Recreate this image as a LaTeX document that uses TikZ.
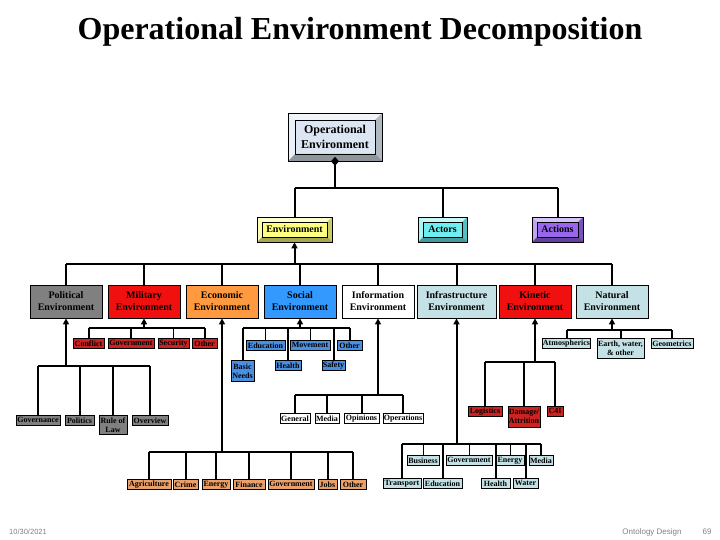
\documentclass[tikz,border=0pt]{standalone}
\usepackage{fontspec}
\setmainfont{Liberation Serif}
\newfontfamily\footfont{Liberation Sans}
\usepackage{tikz}
\usetikzlibrary{arrows.meta}
\definecolor{opblue}{HTML}{DCE6F2}
\definecolor{envyellow}{HTML}{FFFF80}
\definecolor{actcyan}{HTML}{6EEEF0}
\definecolor{actpurple}{HTML}{9966EE}
\definecolor{polgray}{HTML}{808080}
\definecolor{milred}{HTML}{F01010}
\definecolor{milchild}{HTML}{CC2222}
\definecolor{ecoorange}{HTML}{FF9A40}
\definecolor{ecochild}{HTML}{EBA06A}
\definecolor{socblue}{HTML}{3399FF}
\definecolor{socchild}{HTML}{4A90E2}
\definecolor{infrapale}{HTML}{C4E2E6}
\definecolor{footgray}{HTML}{808080}

\begin{document}
\begin{tikzpicture}[x=1pt, y=-1pt,
    link/.style={draw, line width=2pt},
    thinlink/.style={draw, line width=1pt},
    arrowup/.style={-{Triangle[length=6pt,width=6pt]}},
    bevelbox/.style 2 args={draw=black, line width=0.6pt, fill=#1, inner sep=0pt, align=center,
      path picture={
        \fill[white, opacity=.6] (path picture bounding box.north west) -- (path picture bounding box.north east)
          -- ([shift={(-#2,-#2)}]path picture bounding box.north east) -- ([shift={(#2,-#2)}]path picture bounding box.north west) -- cycle;
        \fill[white, opacity=.4] (path picture bounding box.north west) -- ([shift={(#2,-#2)}]path picture bounding box.north west)
          -- ([shift={(#2,#2)}]path picture bounding box.south west) -- (path picture bounding box.south west) -- cycle;
        \fill[black, opacity=.35] (path picture bounding box.south west) -- ([shift={(#2,#2)}]path picture bounding box.south west)
          -- ([shift={(-#2,#2)}]path picture bounding box.south east) -- (path picture bounding box.south east) -- cycle;
        \fill[black, opacity=.2] (path picture bounding box.south east) -- ([shift={(-#2,#2)}]path picture bounding box.south east)
          -- ([shift={(-#2,-#2)}]path picture bounding box.north east) -- (path picture bounding box.north east) -- cycle;
        \draw[black, line width=0.6pt] ([shift={(#2,-#2)}]path picture bounding box.north west) rectangle ([shift={(-#2,#2)}]path picture bounding box.south east);
      }},
    lvl/.style={draw=black, line width=0.8pt, fill=#1, font=\fontsize{10}{12}\selectfont\bfseries,
                minimum width=72pt, minimum height=33pt, align=center, inner sep=1pt},
    leaf/.style={draw=black, line width=0.6pt, fill=#1, font=\fontsize{8}{9}\selectfont\bfseries,
                 minimum height=10pt, inner sep=0.5pt, align=center, anchor=north}
  ]
  \useasboundingbox (0,0) rectangle (720,540);

  \node[font=\fontsize{32}{36}\selectfont\bfseries, anchor=base] (title) at (360,40) {Operational Environment Decomposition};

  % top of the tree
  \node[bevelbox={opblue}{7pt}, minimum width=94pt, minimum height=48pt, font=\fontsize{12}{15}\selectfont\bfseries] (openv) at (335,137) {Operational\\Environment};
  \node[bevelbox={envyellow}{5pt}, minimum width=75pt, minimum height=25pt, font=\fontsize{10}{12}\selectfont\bfseries] (envnode) at (294.5,229.5) {Environment};
  \node[bevelbox={actcyan}{5pt}, minimum width=49pt, minimum height=25pt, font=\fontsize{10}{12}\selectfont\bfseries] (actors) at (442.5,229.5) {Actors};
  \node[bevelbox={actpurple}{5pt}, minimum width=51pt, minimum height=25pt, font=\fontsize{10}{12}\selectfont\bfseries] (actions) at (557.5,229.5) {Actions};

  \coordinate (topbar) at (0,188);
  \draw[link, {Diamond[length=9pt,width=8pt]}-, shorten <=-4.5pt] (openv.south) -- (openv.south |- topbar);
  \draw[link] (envnode.north |- topbar) -- (actions.north |- topbar);
  \foreach \n in {envnode,actors,actions}
    \draw[link] (\n.north |- topbar) -- (\n.north);

  % environments
  \node[lvl=polgray] (polenv) at (66,301.5) {Political\\Environment};
  \node[lvl=milred] (milenv) at (144,301.5) {Military\\Environment};
  \node[lvl=ecoorange] (ecoenv) at (222,301.5) {Economic\\Environment};
  \node[lvl=socblue] (socenv) at (300,301.5) {Social\\Environment};
  \node[lvl=white] (infoenv) at (378,301.5) {Information\\Environment};
  \node[lvl=infrapale, minimum width=79pt] (infraenv) at (456.5,301.5) {Infrastructure\\Environment};
  \node[lvl=milred] (kinenv) at (535,301.5) {Kinetic\\Environment};
  \node[lvl=infrapale] (natenv) at (612,301.5) {Natural\\Environment};

  \coordinate (envbar) at (0,264);
  \draw[link, arrowup] (envnode.south |- envbar) -- (envnode.south);
  \draw[link] (polenv.north |- envbar) -- (natenv.north |- envbar);
  \foreach \n in {polenv,milenv,ecoenv,socenv,infoenv,infraenv,kinenv,natenv}
    \draw[link] (\n.north |- envbar) -- (\n.north);

  % political
  \node[leaf=polgray, minimum width=44pt] (polgov) at (38,415) {Governance};
  \node[leaf=polgray, minimum width=29pt] (polpol) at (79.5,415) {Politics};
  \node[leaf=polgray, minimum width=28pt, minimum height=19pt] (pollaw) at (113,415) {Rule of\\Law};
  \node[leaf=polgray, minimum width=36pt] (polovw) at (150,415) {Overview};
  \coordinate (polbar) at (0,366);
  \draw[link, arrowup] (polenv.south |- polbar) -- (polenv.south);
  \draw[link] (polgov.north |- polbar) -- (polovw.north |- polbar);
  \foreach \n in {polgov,polpol,pollaw,polovw}
    \draw[link] (\n.north |- polbar) -- (\n.north);

  % military
  \node[leaf=milchild, minimum width=31pt] (milcon) at (88.5,338) {Conflict};
  \node[leaf=milchild, minimum width=46pt] (milgov) at (131,338) {Government};
  \node[leaf=milchild, minimum width=31pt] (milsec) at (173.5,338) {Security};
  \node[leaf=milchild, minimum width=25pt] (miloth) at (204.5,338) {Other};
  \coordinate (milbar) at (0,328);
  \draw[link, arrowup] (milenv.south |- milbar) -- (milenv.south);
  \draw[link] (milcon.north |- milbar) -- (miloth.north |- milbar);
  \foreach \n in {milcon,milgov,miloth}
    \draw[link] (\n.north |- milbar) -- (\n.north);
  \draw[thinlink] (milsec.north |- milbar) -- (milsec.north);

  % economic
  \node[leaf=ecochild, minimum width=44pt] (ecoagr) at (149,479) {Agriculture};
  \node[leaf=ecochild, minimum width=25pt] (ecocri) at (185.5,479) {Crime};
  \node[leaf=ecochild, minimum width=28pt] (ecoeng) at (216,479) {Energy};
  \node[leaf=ecochild, minimum width=32pt] (ecofin) at (249,479) {Finance};
  \node[leaf=ecochild, minimum width=46pt] (ecogov) at (291,479) {Government};
  \node[leaf=ecochild, minimum width=19pt] (ecojob) at (327.5,479) {Jobs};
  \node[leaf=ecochild, minimum width=26pt] (ecooth) at (353,479) {Other};
  \coordinate (ecobar) at (0,452);
  \draw[link, arrowup] (ecoenv.south |- ecobar) -- (ecoenv.south);
  \draw[link] (ecoagr.north |- ecobar) -- (ecooth.north |- ecobar);
  \foreach \n in {ecoagr,ecocri,ecoeng,ecofin,ecogov,ecojob,ecooth}
    \draw[link] (\n.north |- ecobar) -- (\n.north);

  % social
  \node[leaf=socchild, minimum width=39pt] (socedu) at (265.5,340) {Education};
  \node[leaf=socchild, minimum width=40pt] (socmov) at (310,340) {Movement};
  \node[leaf=socchild, minimum width=25pt] (socoth) at (349.5,340) {Other};
  \node[leaf=socchild, minimum width=23pt, minimum height=21pt] (socbas) at (242.5,360) {Basic\\Needs};
  \node[leaf=socchild, minimum width=26pt] (sochea) at (288,360) {Health};
  \node[leaf=socchild, minimum width=23pt] (socsaf) at (333.5,360) {Safety};
  \coordinate (socbar) at (0,328);
  \draw[link, arrowup] (socenv.south |- socbar) -- (socenv.south);
  \draw[link] (socbas.north |- socbar) -- (socoth.north |- socbar);
  \foreach \n in {socbas,sochea,socsaf,socoth}
    \draw[link] (\n.north |- socbar) -- (\n.north);
  \foreach \n in {socedu,socmov}
    \draw[thinlink] (\n.north |- socbar) -- (\n.north);

  % information
  \node[leaf=white, minimum width=30pt] (infgen) at (295,413) {General};
  \node[leaf=white, minimum width=24pt] (infmed) at (327,413) {Media};
  \node[leaf=white, minimum width=35pt] (infopi) at (361.5,413) {Opinions};
  \node[leaf=white, minimum width=40pt] (infops) at (403,413) {Operations};
  \coordinate (infbar) at (0,395);
  \draw[link, arrowup] (infoenv.south |- infbar) -- (infoenv.south);
  \draw[link] (infgen.north |- infbar) -- (infops.north |- infbar);
  \foreach \n in {infgen,infmed,infopi,infops}
    \draw[link] (\n.north |- infbar) -- (\n.north);

  % infrastructure
  \node[leaf=infrapale, minimum width=32pt] (ifrbus) at (423,455) {Business};
  \node[leaf=infrapale, minimum width=46pt] (ifrgov) at (469,455) {Government};
  \node[leaf=infrapale, minimum width=28pt] (ifreng) at (510,455) {Energy};
  \node[leaf=infrapale, minimum width=24pt] (ifrmed) at (541,455) {Media};
  \node[leaf=infrapale, minimum width=38pt] (ifrtrn) at (402,478) {Transport};
  \node[leaf=infrapale, minimum width=39pt] (ifredu) at (442.5,478) {Education};
  \node[leaf=infrapale, minimum width=29pt] (ifrhea) at (495.5,478) {Health};
  \node[leaf=infrapale, minimum width=25pt] (ifrwat) at (525.5,478) {Water};
  \coordinate (ifrbar) at (0,444);
  \draw[link, arrowup] (infraenv.south |- ifrbar) -- (infraenv.south);
  \draw[link] (ifrtrn.north |- ifrbar) -- (ifrmed.north |- ifrbar);
  \foreach \n in {ifrtrn,ifredu,ifrhea,ifrwat,ifrmed}
    \draw[link] (\n.north |- ifrbar) -- (\n.north);
  \foreach \n in {ifrbus,ifrgov,ifreng}
    \draw[thinlink] (\n.north |- ifrbar) -- (\n.north);

  % kinetic
  \node[leaf=milchild, minimum width=34pt] (kinlog) at (485,406) {Logistics};
  \node[leaf=milchild, minimum width=32pt, minimum height=21pt] (kindam) at (524,406) {Damage/\\Attrition};
  \node[leaf=milchild, minimum width=16pt] (kinc4i) at (555,406) {C4I};
  \coordinate (kinbar) at (0,362);
  \draw[link, arrowup] (kinenv.south |- kinbar) -- (kinenv.south);
  \draw[link] (kinlog.north |- kinbar) -- (kinc4i.north |- kinbar);
  \foreach \n in {kinlog,kindam,kinc4i}
    \draw[link] (\n.north |- kinbar) -- (\n.north);

  % natural
  \node[leaf=infrapale, minimum width=47pt] (natatm) at (566.5,338) {Atmospherics};
  \node[leaf=infrapale, minimum width=47pt, minimum height=20pt] (natear) at (620.5,338) {Earth, water,\\\& other};
  \node[leaf=infrapale, minimum width=42pt] (natgeo) at (672,338) {Geometrics};
  \coordinate (natbar) at (0,330);
  \draw[link, arrowup] (natenv.south |- natbar) -- (natenv.south);
  \draw[link] (natatm.north |- natbar) -- (natgeo.north |- natbar);
  \foreach \n in {natatm,natear,natgeo}
    \draw[link] (\n.north |- natbar) -- (\n.north);

  % footer
  \node[font=\footfont\fontsize{7.5}{9}\selectfont, text=footgray, anchor=base] (date) at (28,534) {10/30/2021};
  \node[font=\footfont\fontsize{8}{9}\selectfont, text=footgray, anchor=base] (course) at (652,534) {Ontology Design};
  \node[font=\footfont\fontsize{8}{9}\selectfont, text=footgray, anchor=base] (page) at (707,534) {69};
\end{tikzpicture}
\end{document}
